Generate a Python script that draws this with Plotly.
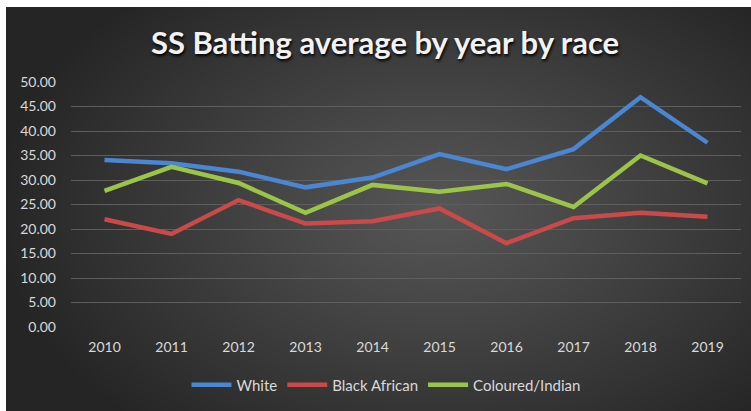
import base64, struct, zlib
import numpy as np
import plotly.graph_objects as go

years = ["2010", "2011", "2012", "2013", "2014", "2015", "2016", "2017", "2018", "2019"]
white = [34.1, 33.4, 31.7, 28.5, 30.5, 35.3, 32.2, 36.3, 46.9, 37.6]
black_african = [22.0, 19.0, 25.9, 21.1, 21.6, 24.2, 17.1, 22.2, 23.3, 22.5]
coloured_indian = [27.8, 32.7, 29.4, 23.3, 29.0, 27.6, 29.2, 24.5, 35.0, 29.3]
series_names = ["White", "Black African", "Coloured/Indian"]
series_colors = ["#4a86d2", "#c94a48", "#9bc548"]

W, H = 751, 411
ML, MR, MT, MB = 71, 10, 82, 84
BX0, BY0 = 6, 7  # dark panel offset


def gradient_png(w, h):
    xs = np.arange(w)[None, :]
    ys = np.arange(h)[:, None]
    cx, cy = w * 0.58, h * 0.50
    t = np.sqrt(((xs - cx) / (w * 0.60)) ** 2 + ((ys - cy) / (h * 0.72)) ** 2)
    t = np.clip(t, 0, 1) ** 1.1
    c = (0x56 + (0x25 - 0x56) * t).astype(np.uint8)
    rgb = np.stack([c, c, c], axis=-1)
    raw = b"".join(b"\x00" + rgb[r].tobytes() for r in range(h))

    def chunk(tag, data):
        return struct.pack(">I", len(data)) + tag + data + struct.pack(">I", zlib.crc32(tag + data) & 0xFFFFFFFF)

    png = b"\x89PNG\r\n\x1a\n" + chunk(b"IHDR", struct.pack(">IIBBBBB", w, h, 8, 2, 0, 0, 0))
    png += chunk(b"IDAT", zlib.compress(raw, 9)) + chunk(b"IEND", b"")
    return "data:image/png;base64," + base64.b64encode(png).decode()


pw, ph = W - ML - MR, H - MT - MB
bw, bh = W - BX0, H - BY0

fig = go.Figure()
for name, vals, col in zip(series_names, [white, black_african, coloured_indian], series_colors):
    fig.add_trace(go.Scatter(x=years, y=vals, name=name, mode="lines",
                             line=dict(color=col, width=4.5)))

fig.update_layout(
    width=W, height=H,
    margin=dict(l=ML, r=MR, t=MT, b=MB, autoexpand=False),
    paper_bgcolor="white",
    plot_bgcolor="rgba(0,0,0,0)",
    images=[dict(source=gradient_png(bw, bh), xref="paper", yref="paper",
                 x=(BX0 - ML) / pw, y=(H - MB - BY0) / ph,
                 sizex=bw / pw, sizey=bh / ph, sizing="stretch",
                 xanchor="left", yanchor="top", layer="below")],
    title=dict(text="<b>SS Batting average by year by race</b>", x=385 / W, xanchor="center",
               xref="container", yref="container",
               y=1 - 43 / H, yanchor="middle",
               font=dict(family="Lato", size=31, color="#f2f2f2",
                         shadow="1px 2px 3px #000")),
    font=dict(family="Lato", size=14, color="#d9d9d9"),
    showlegend=True,
    legend=dict(orientation="h", xref="container", yref="container",
                x=386 / W, xanchor="center",
                y=1 - 385 / H, yanchor="middle",
                bgcolor="rgba(0,0,0,0)", font=dict(size=15, color="#d9d9d9"),
                itemwidth=40, tracegroupgap=0),
    xaxis=dict(type="category", range=[-0.5, 9.5], showgrid=False, zeroline=False,
               showline=False, ticks="", ticklabelstandoff=10, automargin=False,
               tickfont=dict(size=14, color="#d9d9d9")),
    yaxis=dict(range=[0, 50], dtick=5, tickformat=".2f", showgrid=True,
               gridcolor="#5e5e5e", gridwidth=1, zeroline=False, showline=False,
               ticks="", ticklabelstandoff=14, automargin=False,
               tickfont=dict(size=14, color="#d9d9d9")),
)

fig.write_html("out.html", config={"displayModeBar": False},
               post_script="document.body.style.margin='0';document.body.style.overflow='hidden';")
